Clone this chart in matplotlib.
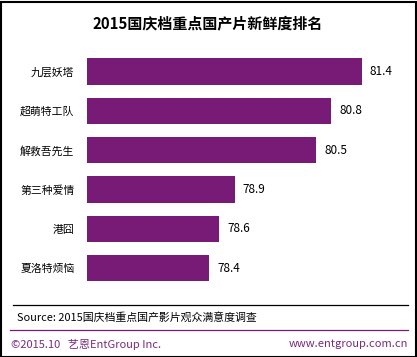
import matplotlib.pyplot as plt
from matplotlib.patches import Rectangle
from matplotlib.lines import Line2D

plt.rcParams['font.family'] = ['Noto Sans CJK SC', 'DejaVu Sans']

films = ['九层妖塔', '超萌特工队', '解救吾先生', '第三种爱情', '港囧', '夏洛特烦恼']
scores = [81.4, 80.8, 80.5, 78.9, 78.6, 78.4]

purple = '#781b77'
W, H = 417, 357

fig = plt.figure(figsize=(W / 100, H / 100), dpi=100)

# axes in pixel terms: bars start at x=87, rows 39.3 px apart
ax = fig.add_axes([87 / W, 1 - 287.7 / H, 318 / W, 235.8 / H])
ypos = list(range(len(films)))[::-1]
ax.barh(ypos, [s - 76 for s in scores], left=76, height=0.67, color=purple)
ax.set_xlim(76, 82.25)
ax.set_ylim(-0.5, 5.5)
ax.set_yticks(ypos)
ax.set_yticklabels(films, fontsize=7.8)
ax.tick_params(axis='y', length=0, pad=9)
ax.set_xticks([])
for sp in ax.spines.values():
    sp.set_visible(False)
for y, s in zip(ypos, scores):
    ax.text(s + 0.16, y, f'{s}', va='center', ha='left', fontsize=8.5)

fig.text(208 / W, 1 - 23 / H, '2015国庆档重点国产片新鲜度排名', ha='center', va='center',
         fontsize=10.8, fontweight='bold')

# source / footer
fig.add_artist(Line2D([13 / W, 408 / W], [1 - 304.5 / H] * 2, color='black', lw=0.9))
fig.text(17 / W, 1 - 317 / H, 'Source: 2015国庆档重点国产影片观众满意度调查', ha='left', va='center',
         fontsize=7.85)
fig.add_artist(Line2D([10 / W, 408 / W], [1 - 329.5 / H] * 2, color=purple, lw=0.9))
fig.text(11 / W, 1 - 344 / H, '©2015.10   艺恩EntGroup Inc.', ha='left', va='center',
         fontsize=8, color='#7b2a7e')
fig.text(408 / W, 1 - 344 / H, 'www.entgroup.com.cn', ha='right', va='center',
         fontsize=8, color='#7b2a7e')

fig.add_artist(Rectangle((0.5 / W, 0.5 / H), 1 - 2 / W, 1 - 2 / H, transform=fig.transFigure,
                         fill=False, edgecolor='black', lw=1.5))

fig.savefig('out.png', dpi=100)
